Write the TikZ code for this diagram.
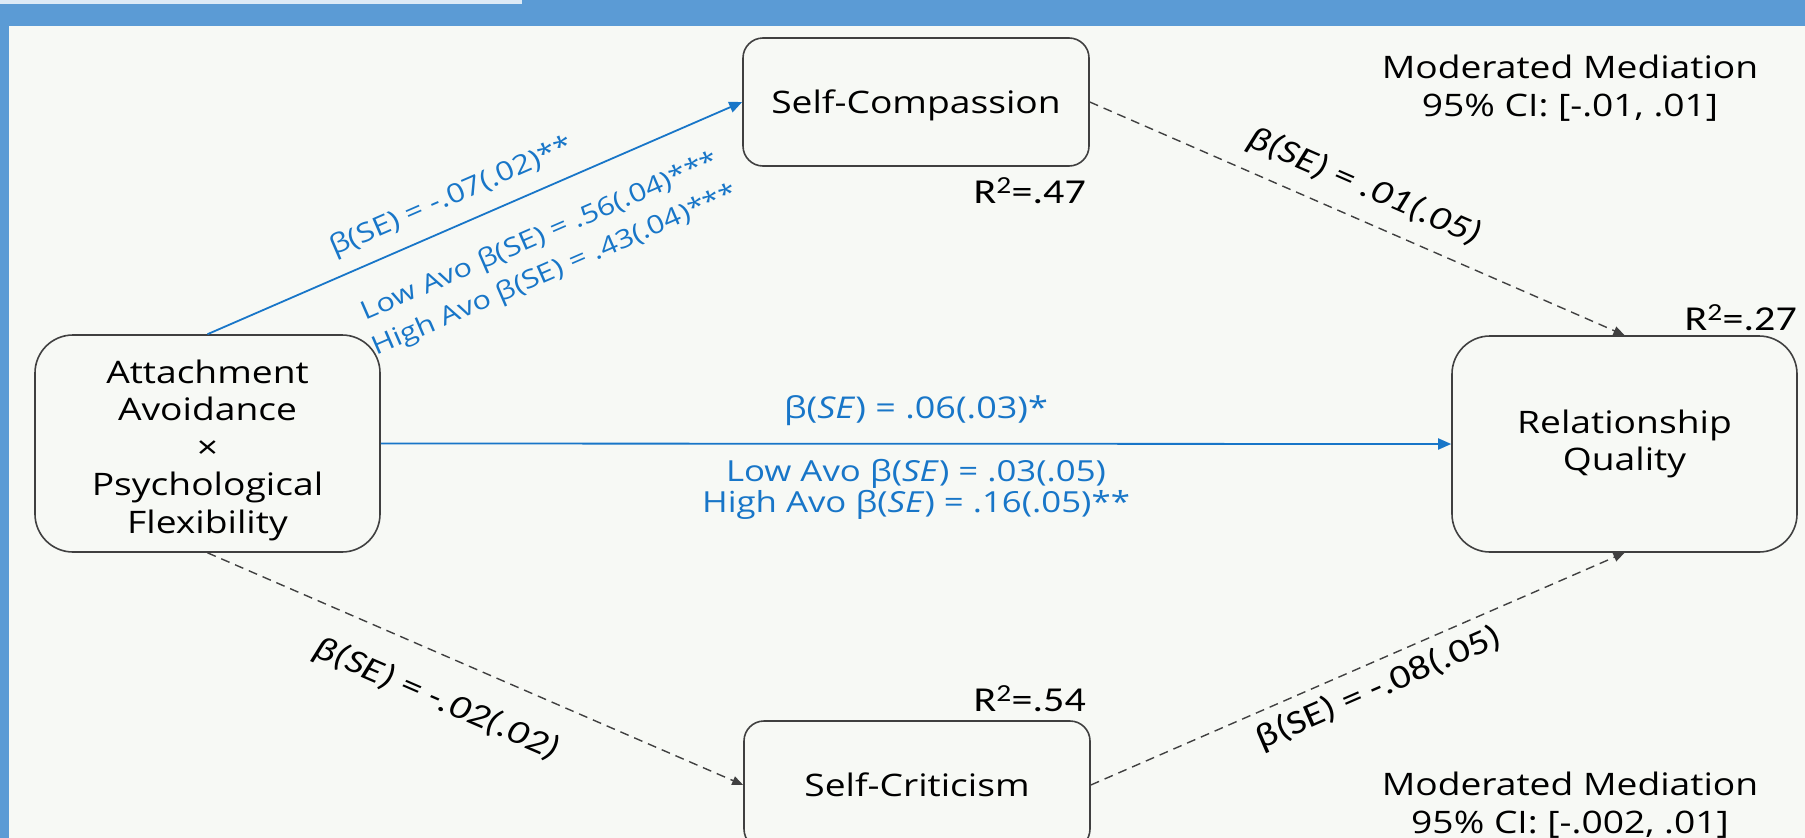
\documentclass[tikz,border=0pt]{standalone}
\usepackage{fontspec}
\setmainfont{Open Sans}[FakeStretch=1.2]
\newfontfamily\calib{Carlito}[FakeStretch=1.2]
\usetikzlibrary{arrows.meta}
\definecolor{bandblue}{RGB}{91,155,213}
\definecolor{stripblue}{RGB}{221,234,246}
\definecolor{paper}{RGB}{247,249,245}
\definecolor{pathblue}{RGB}{24,118,200}
\definecolor{boxgray}{RGB}{64,64,64}
\begin{document}
\begin{tikzpicture}[x=1pt, y=-1pt, line join=round,
    varbox/.style={draw=boxgray, line width=1.6pt, rounded corners=38pt, align=center,
      font=\fontsize{31}{37.5}\selectfont, inner sep=0pt},
    smallbox/.style={varbox, rounded corners=20pt, minimum width=346pt, minimum height=128pt,
      text depth=0pt},
    bluepath/.style={draw=pathblue, line width=1.8pt, -{Triangle[length=13pt,width=11pt]}},
    dashpath/.style={draw=black!75, line width=1.4pt, dash pattern=on 9pt off 6pt,
      -{Triangle[length=11pt,width=9pt]}},
    bluelbl/.style={text=pathblue, font=\fontsize{26}{36}\selectfont, inner sep=0pt, align=center},
    dashlbl/.style={font=\calib\fontsize{34}{40}\selectfont, inner sep=0pt},
    rsq/.style={font=\calib\fontsize{35}{40}\selectfont, inner sep=0pt},
    notelbl/.style={font=\fontsize{31}{38}\selectfont, align=center, inner sep=0pt}]
    %%%%%%%%%%%%%%%%%%%%%%%%%%%%%%%%%
    \fill[bandblue] (0,0) rectangle (1805,838);
    \fill[stripblue] (0,0) rectangle (522,4);
    \fill[paper] (9,26) rectangle (1805,838);
    \useasboundingbox (0,0) rectangle (1805,838);
    %%%%%%%%%%%%%%%%%%%%%%%%%%%%%%%%%
    \node[varbox, minimum width=345pt, minimum height=217pt] (avo) at (207.5,443.5)
      {\rule{0pt}{37pt}Attachment\\Avoidance\\×\\Psychological\\Flexibility};
    \node[smallbox] (comp) at (916,102) {Self-Compassion};
    \node[smallbox] (crit) at (917,785) {Self-Criticism};
    \node[varbox, minimum width=345pt, minimum height=216pt] (rel) at (1624.5,444)
      {Relationship\\Quality};
    %%%%%%%%%%%%%%%%%%%%%%%%%%%%%%%%%
    \node[rsq, anchor=base east] (r47) at (1086,203) {R\textsuperscript{2}=.47};
    \node[rsq, anchor=base east] (r54) at (1086,711) {R\textsuperscript{2}=.54};
    \node[rsq, anchor=base east] (r27) at (1797,330) {R\textsuperscript{2}=.27};
    \node[notelbl] (mmtop) at (1570,88) {Moderated Mediation\\95\% CI: [-.01, .01]};
    \node[notelbl] (mmbot) at (1570,805) {Moderated Mediation\\95\% CI: [-.002, .01]};
    %%%%%%%%%%%%%%%%%%%%%%%%%%%%%%%%%
    \draw[bluepath] (avo.north) -- (comp.west)
      node[bluelbl, font=\fontsize{26.5}{36}\selectfont, pos=0.478, sloped, above=14pt] (b1)
        {β(SE) = -.07(.02)**}
      node[bluelbl, font=\fontsize{25.5}{37}\selectfont, pos=0.59, sloped, below=30pt] (b2)
        {Low Avo β(SE) = .56(.04)***\\High Avo β(SE) = .43(.04)***};
    \draw[bluepath] (avo.east) -- (rel.west)
      node[bluelbl, font=\fontsize{30}{34}\selectfont, midway, above=17pt] (b3)
        {β(\textit{SE}) = .06(.03)*}
      node[bluelbl, font=\fontsize{29}{31}\selectfont, midway, below=15pt] (b4)
        {Low Avo β(\textit{SE}) = .03(.05)\\High Avo β(\textit{SE}) = .16(.05)**};
    \begin{scope}[dashpath]
      \draw (comp.east) -- (rel.north)
        node[dashlbl, pos=0.49, sloped, above=16pt] (d1) {\itshape β(SE) = .01(.05)};
      \draw (avo.south) -- (crit.west)
        node[dashlbl, pos=0.46, sloped, below=27pt] (d2) {\itshape β(SE) = -.02(.02)};
      \draw (crit.east) -- (rel.south)
        node[dashlbl, pos=0.52, sloped, below=10pt] (d3) {β(SE) = -.08(.05)};
    \end{scope}
    %%%%%%%%%%%%%%%%%%%%%%%%%%%%%%%%%
\end{tikzpicture}
\end{document}
